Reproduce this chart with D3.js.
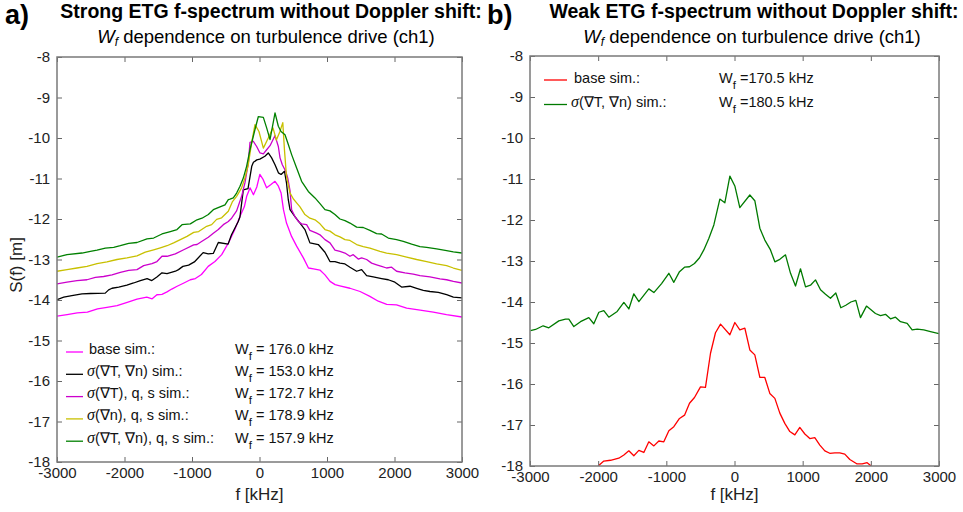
<!DOCTYPE html>
<html>
<head>
<meta charset="utf-8">
<script src="https://cdn.jsdelivr.net/npm/d3@7"></script>
<style>
body { margin: 0; background: #fff; }
svg { font-family: "Liberation Sans", Arial, sans-serif; }
.tick text { font-size: 15px; fill: #222; }
.tick line { stroke: #666; }
</style>
</head>
<body>
<svg id="chart" width="963" height="512"></svg>
<script>
// axis ticks (both panels)
var fTicks = [-3000, -2000, -1000, 0, 1000, 2000, 3000];
var sTicks = [-18, -17, -16, -15, -14, -13, -12, -11, -10, -9, -8];

// panel a) strong ETG
var aBaseF = [-3000,-2850,-2700,-2550,-2400,-2260,-2110,-1960,-1815,-1670,-1590,-1520,-1445,-1370,-1300,-1220,-1120,-1025,-950,-860,
  -760,-660,-560,-460,-365,-290,-225,-190,-140,-90,-40,5,55,105,170,230,280,320,355,400,
  475,550,650,725,800,895,970,1045,1120,1190,1340,1490,1635,1760,1885,2030,2180,2380,2575,2770,3000];
var aBaseS = [-14.40,-14.36,-14.32,-14.30,-14.22,-14.18,-14.14,-14.06,-13.98,-13.93,-13.97,-13.87,-13.86,-13.80,-13.73,-13.66,-13.58,-13.50,-13.47,-13.37,
  -13.17,-13.05,-12.88,-12.59,-12.26,-11.94,-11.70,-11.44,-11.23,-11.40,-11.21,-10.90,-11.03,-11.23,-11.15,-11.07,-11.19,-11.36,-11.77,-12.10,
  -12.43,-12.67,-12.96,-13.21,-13.23,-13.26,-13.38,-13.54,-13.62,-13.65,-13.71,-13.79,-13.91,-14.03,-14.11,-14.12,-14.20,-14.25,-14.30,-14.36,-14.42];

var aSigTnF = [-3000,-2900,-2780,-2630,-2505,-2285,-2235,-2185,-2085,-1965,-1865,-1765,-1665,-1595,-1520,-1445,-1370,-1245,-1200,-1135,
  -1050,-965,-835,-760,-685,-610,-465,-415,-315,-290,-240,-170,-115,-90,-40,5,80,130,180,230,
  280,320,370,400,427,452,525,600,673,747,871,970,1044,1118,1192,1266,1340,1439,1513,1587,
  1685,1809,1908,2006,2105,2229,2328,2426,2525,2649,2772,2872,3000];
var aSigTnS = [-13.99,-13.93,-13.89,-13.85,-13.84,-13.83,-13.75,-13.71,-13.68,-13.63,-13.58,-13.52,-13.47,-13.52,-13.43,-13.33,-13.35,-13.29,-13.25,-13.17,
  -13.14,-13.06,-12.83,-12.86,-12.85,-12.58,-12.62,-12.39,-12.06,-11.95,-11.28,-11.25,-10.70,-10.60,-10.54,-10.52,-10.45,-10.37,-10.49,-10.66,
  -10.86,-10.90,-10.82,-11.11,-11.53,-11.77,-11.94,-12.10,-12.26,-12.59,-12.63,-12.82,-13.05,-13.05,-13.09,-13.11,-13.19,-13.29,-13.25,-13.40,
  -13.43,-13.47,-13.50,-13.56,-13.68,-13.66,-13.71,-13.76,-13.79,-13.81,-13.87,-13.93,-13.95];

var aSigTqsF = [-3000,-2852,-2704,-2556,-2432,-2309,-2185,-2062,-1938,-1815,-1716,-1593,-1519,-1445,-1370,-1247,-1123,-975,-926,-852,
  -758,-684,-610,-536,-462,-413,-339,-265,-216,-166,-141,-92,-42,7,57,106,156,230,279,304,
  338,388,420,452,476,525,575,624,698,747,846,896,970,1044,1118,1192,1266,1340,1389,1463,
  1513,1587,1661,1735,1809,1883,1957,2031,2155,2278,2377,2525,2673,2772,2872,3000];
var aSigTqsS = [-13.60,-13.56,-13.52,-13.50,-13.44,-13.42,-13.38,-13.32,-13.27,-13.25,-13.15,-13.10,-13.05,-12.92,-12.92,-12.86,-12.76,-12.64,-12.63,-12.55,
  -12.45,-12.35,-12.26,-12.14,-12.06,-11.98,-11.80,-11.44,-11.11,-10.62,-10.11,-10.08,-10.21,-10.37,-10.39,-10.29,-10.19,-9.94,-10.21,-10.49,
  -10.66,-10.82,-11.00,-11.30,-11.77,-11.94,-12.06,-12.12,-12.14,-12.28,-12.35,-12.39,-12.51,-12.59,-12.77,-12.80,-12.84,-12.92,-12.88,-12.99,
  -12.96,-13.00,-13.09,-13.13,-13.17,-13.21,-13.19,-13.29,-13.33,-13.36,-13.40,-13.43,-13.48,-13.50,-13.54,-13.58];

var aSigNqsF = [-3000,-2852,-2704,-2556,-2407,-2259,-2111,-1963,-1815,-1692,-1568,-1469,-1370,-1272,-1173,-1074,-975,-901,-783,-709,
  -635,-561,-462,-400,-339,-265,-216,-166,-117,-67,-8,57,130,200,250,300,345,370,400,450,
  500,550,600,673,747,822,896,970,1044,1118,1192,1266,1340,1439,1537,1636,1784,1883,2031,2180,
  2328,2476,2624,2772,2872,3000];
var aSigNqsS = [-13.29,-13.25,-13.21,-13.17,-13.10,-13.06,-13.00,-12.96,-12.91,-12.82,-12.76,-12.71,-12.66,-12.59,-12.51,-12.43,-12.33,-12.31,-12.18,-12.14,
  -12.01,-11.97,-11.81,-11.57,-11.44,-11.23,-10.99,-10.66,-10.12,-9.67,-9.84,-10.25,-10.00,-9.75,-10.05,-9.85,-9.62,-10.30,-10.95,-11.35,
  -11.50,-11.60,-11.70,-11.89,-11.98,-12.02,-12.12,-12.26,-12.30,-12.39,-12.44,-12.51,-12.53,-12.63,-12.68,-12.72,-12.80,-12.84,-12.88,-12.94,
  -13.00,-13.05,-13.11,-13.15,-13.21,-13.27];

var aSigTnqsF = [-3000,-2852,-2630,-2506,-2407,-2284,-2160,-2062,-1938,-1815,-1667,-1568,-1445,-1321,-1222,-1148,-1025,-926,-852,-758,
  -684,-585,-511,-462,-437,-388,-339,-289,-240,-191,-141,-67,-17,57,106,156,230,279,319,378,
  427,476,550,624,723,822,896,970,1044,1118,1192,1266,1340,1439,1537,1636,1735,1809,1908,2031,
  2130,2254,2377,2476,2624,2772,2872,3000];
var aSigTnqsS = [-12.94,-12.88,-12.84,-12.80,-12.77,-12.72,-12.70,-12.66,-12.60,-12.58,-12.49,-12.47,-12.37,-12.31,-12.26,-12.14,-12.12,-12.02,-11.98,-11.89,
  -11.77,-11.70,-11.65,-11.52,-11.51,-11.48,-11.36,-11.19,-10.99,-10.70,-10.29,-9.79,-9.47,-9.49,-9.75,-10.04,-9.38,-9.71,-9.84,-9.92,
  -10.16,-10.41,-10.74,-11.07,-11.32,-11.48,-11.62,-11.77,-11.80,-11.89,-12.00,-12.04,-12.10,-12.20,-12.21,-12.28,-12.36,-12.37,-12.47,-12.51,
  -12.55,-12.62,-12.68,-12.70,-12.74,-12.78,-12.81,-12.84];

var aLabels = ["base sim.:", "σ(∇T, ∇n) sim.:", "σ(∇T), q, s sim.:", "σ(∇n), q, s sim.:", "σ(∇T, ∇n), q, s sim.:"];
var aWf = ["176.0", "153.0", "172.7", "178.9", "157.9"];
var aColors = ["#ff00ff", "#000000", "#cc00cc", "#c8c000", "#008000"];

// panel b) weak ETG
var bBaseF = [-2000,-1917,-1819,-1697,-1623,-1550,-1477,-1403,-1330,-1257,-1183,-1110,-1037,-963,-890,-807,-733,-660,-587,-499,
  -426,-352,-279,-205,-68,5,78,152,225,298,372,445,518,592,665,738,812,885,958,1032,
  1105,1178,1252,1325,1398,1472,1545,1618,1692,1799,1873,1946,2005];
var bBaseS = [-18.00,-17.88,-17.86,-17.81,-17.73,-17.63,-17.75,-17.62,-17.67,-17.41,-17.51,-17.39,-17.41,-17.14,-17.04,-16.84,-16.76,-16.47,-16.33,-16.07,
  -16.08,-15.25,-14.75,-14.54,-14.80,-14.50,-14.68,-14.64,-15.17,-15.29,-15.84,-15.84,-16.23,-16.35,-16.71,-16.96,-17.16,-17.24,-17.06,-17.22,
  -17.33,-17.31,-17.49,-17.63,-17.69,-17.68,-17.68,-17.71,-17.84,-17.95,-17.95,-17.92,-18.00];

var bSigTnF = [-2993,-2919,-2807,-2724,-2577,-2479,-2430,-2357,-2259,-2137,-2064,-1990,-1917,-1844,-1721,-1623,-1550,-1477,-1403,-1257,
  -1183,-1070,-963,-890,-807,-733,-660,-587,-513,-450,-377,-303,-215,-142,-68,5,78,225,298,372,
  445,528,592,665,748,822,895,968,1042,1115,1188,1262,1335,1408,1486,1560,1633,1707,1780,1848,
  1936,2068,2142,2215,2288,2362,2435,2533,2606,2680,2777,2875,3000];
var bSigTnS = [-14.70,-14.67,-14.58,-14.63,-14.46,-14.42,-14.42,-14.60,-14.48,-14.38,-14.53,-14.25,-14.21,-14.37,-14.23,-14.01,-14.17,-13.80,-13.99,-13.68,
  -13.77,-13.55,-13.30,-13.52,-13.26,-13.15,-13.14,-13.06,-12.92,-12.73,-12.45,-12.12,-11.49,-11.58,-10.93,-11.17,-11.70,-11.39,-11.53,-12.20,
  -12.49,-12.73,-13.02,-12.96,-12.85,-13.30,-13.61,-13.19,-13.63,-13.59,-13.46,-13.70,-13.81,-13.91,-13.78,-14.14,-14.08,-14.00,-13.96,-14.38,
  -14.10,-14.28,-14.33,-14.30,-14.41,-14.37,-14.48,-14.52,-14.68,-14.66,-14.68,-14.72,-14.77];

var bLabels = ["base sim.:", "σ(∇T, ∇n) sim.:"];
var bWf = ["170.5", "180.5"];
var bColors = ["#ff0000", "#007a00"];

window.onload = function() {
	var svg = d3.select("#chart");
	svg.append("rect").attr("width", 963).attr("height", 512).attr("fill", "#fff");

	function zip(fs, ss) {
		return fs.map(function(f, i) { return [f, ss[i]]; });
	}

	function drawPanel(p) {
		var x = d3.scaleLinear().domain([-3000, 3000]).range([p.left, p.right]);
		var y = d3.scaleLinear().domain([-18, -8]).range([p.bottom, p.top]);
		var fmt = function(d) { return String(d); };

		// clip the curves to the axes box
		svg.append("clipPath").attr("id", p.id)
			.append("rect")
				.attr("x", p.left).attr("y", p.top)
				.attr("width", p.right - p.left).attr("height", p.bottom - p.top);

		var line = d3.line()
			.x(function(d) { return x(d[0]); })
			.y(function(d) { return y(d[1]); });

		var g = svg.append("g").attr("clip-path", "url(#" + p.id + ")");
		p.series.forEach(function(s, i) {
			g.append("path")
				.datum(s)
				.attr("fill", "none")
				.attr("stroke", p.colors[i])
				.attr("stroke-width", 1.3)
				.attr("stroke-linejoin", "round")
				.attr("d", line);
		});

		// axes with inward ticks on all four sides
		svg.append("g").attr("transform", "translate(0," + p.bottom + ")")
			.call(d3.axisBottom(x).tickValues(fTicks).tickFormat(fmt).tickSizeInner(-5).tickSizeOuter(0).tickPadding(5));
		svg.append("g").attr("transform", "translate(0," + p.top + ")")
			.call(d3.axisTop(x).tickValues(fTicks).tickFormat("").tickSizeInner(-5).tickSizeOuter(0));
		svg.append("g").attr("transform", "translate(" + p.left + ",0)")
			.call(d3.axisLeft(y).tickValues(sTicks).tickFormat(fmt).tickSizeInner(-5).tickSizeOuter(0).tickPadding(7));
		svg.append("g").attr("transform", "translate(" + p.right + ",0)")
			.call(d3.axisRight(y).tickValues(sTicks).tickFormat("").tickSizeInner(-5).tickSizeOuter(0));
		svg.selectAll(".domain").attr("stroke", "none");

		svg.append("rect")
			.attr("x", p.left).attr("y", p.top)
			.attr("width", p.right - p.left).attr("height", p.bottom - p.top)
			.attr("fill", "none").attr("stroke", "#7a7a7a").attr("stroke-width", 1.5);

		// x label
		svg.append("text")
			.attr("x", (p.left + p.right) / 2).attr("y", 500)
			.attr("text-anchor", "middle").style("font-size", "17px").attr("fill", "#222")
			.text("f [kHz]");

		// legend
		p.labels.forEach(function(lab, i) {
			var yy = p.legY + i * p.legStep;
			svg.append("line")
				.attr("x1", p.legX).attr("x2", p.legX + p.legLen)
				.attr("y1", yy).attr("y2", yy)
				.attr("stroke", p.colors[i]).attr("stroke-width", 1.3);
			var t = svg.append("text")
				.attr("x", p.legX + p.legLen + 4).attr("y", yy + p.textDy)
				.style("font-size", "14.5px").attr("fill", "#111");
			if (lab.charAt(0) === "σ") {
				t.append("tspan").style("font-style", "italic").style("font-family", "'Liberation Serif', serif")
					.style("font-size", "16px").text("σ");
				t.append("tspan").text(lab.slice(1));
			} else {
				t.append("tspan").attr("dx", p.plainDx).text(lab);
			}
			var w = svg.append("text")
				.attr("x", p.wfX).attr("y", yy + p.textDy)
				.style("font-size", "14.5px").attr("fill", "#111");
			w.append("tspan").text("W");
			w.append("tspan").attr("dy", 6).style("font-size", "11.5px").text("f");
			w.append("tspan").attr("dy", -6).text(p.eq + p.wf[i] + " kHz");
		});
	}

	drawPanel({
		id: "clipA", left: 57, right: 462, top: 57, bottom: 462,
		series: [zip(aBaseF, aBaseS), zip(aSigTnF, aSigTnS), zip(aSigTqsF, aSigTqsS), zip(aSigNqsF, aSigNqsS), zip(aSigTnqsF, aSigTnqsS)],
		colors: aColors, labels: aLabels, wf: aWf, eq: " = ",
		legX: 66, legLen: 17, legY: 352, legStep: 22.3, textDy: 1.5, wfX: 235, plainDx: 2
	});
	drawPanel({
		id: "clipB", left: 530, right: 939, top: 56, bottom: 466,
		series: [zip(bBaseF, bBaseS), zip(bSigTnF, bSigTnS)],
		colors: bColors, labels: bLabels, wf: bWf, eq: " =",
		legX: 544, legLen: 23, legY: 80, legStep: 24.5, textDy: 2.5, wfX: 719, plainDx: 3
	});

	// y label (left panel only)
	svg.append("text")
		.attr("transform", "translate(22,265) rotate(-90)")
		.attr("text-anchor", "middle").style("font-size", "17px").attr("fill", "#222")
		.text("S(f) [m]");

	// titles
	function title(x, label, bold, cx, cx2) {
		svg.append("text").attr("x", x).attr("y", 24)
			.style("font-size", "27px").style("font-weight", "bold").text(label);
		svg.append("text").attr("x", cx).attr("y", 18).attr("text-anchor", "middle")
			.style("font-size", "19.5px").style("font-weight", "bold").text(bold);
		var t = svg.append("text").attr("x", cx2).attr("y", 43).attr("text-anchor", "middle")
			.style("font-size", "18.5px");
		t.append("tspan").style("font-style", "italic").text("W");
		t.append("tspan").style("font-style", "italic").style("font-size", "12px").attr("dy", 3).text("f");
		t.append("tspan").attr("dy", -3).text(" dependence on turbulence drive (ch1)");
	}
	title(5, "a)", "Strong ETG f-spectrum without Doppler shift:", 271, 266);
	title(487, "b)", "Weak ETG f-spectrum without Doppler shift:", 754, 752);
};
</script>
</body>
</html>
